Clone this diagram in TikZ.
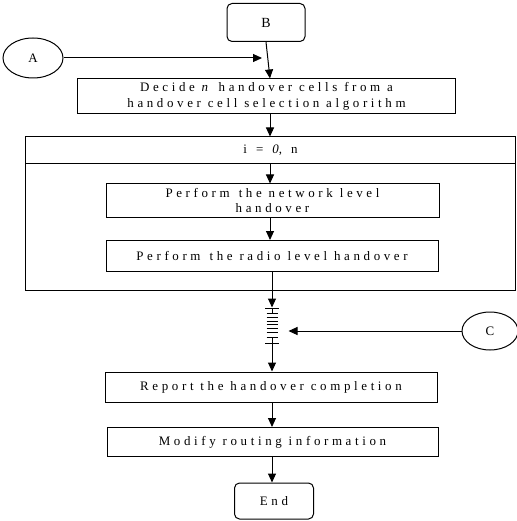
\documentclass[tikz,border=0pt]{standalone}
\usepackage{fontspec}
\setmainfont{Liberation Serif}
\newfontfamily\spacedfont[LetterSpace=28]{Liberation Serif}
\usetikzlibrary{shapes.geometric,arrows.meta,calc}
\begin{document}
\begin{tikzpicture}[x=1bp,y=-1bp,
  line width=1bp,
  arr/.style={-{Triangle[length=9bp,width=8bp]}},
  box/.style={draw, rectangle, inner sep=0pt, align=center, font=\spacedfont\fontsize{13}{16}\selectfont},
  term/.style={draw, rectangle, rounded corners=5bp, inner sep=0pt, font=\fontsize{14}{16}\selectfont},
  conn/.style={draw, ellipse, inner sep=0pt, font=\fontsize{13}{15}\selectfont}]
\useasboundingbox (0,0) rectangle (517,521);
\fill[white] (0,0) rectangle (517,521);
\coordinate (col) at (270,0);
% nodes
\node[term, minimum width=78bp, minimum height=38bp] (B) at (266,22.5) {B};
\node[conn, minimum width=60bp, minimum height=40bp] (A) at (33,58) {A};
\node[box, minimum width=377bp, minimum height=35bp] (decide) at (266.5,96.5) {Decide \textit{n} handover cells from a\\handover cell selection algorithm};
\node[draw, rectangle, minimum width=489bp, minimum height=27bp, inner sep=0pt, font=\spacedfont\fontsize{13}{14}\selectfont] (loophead) at (270.5,150.5) {i \,=\, \textit{0}, \,n};
\node[draw, rectangle, minimum width=489bp, minimum height=126bp, inner sep=0pt] (loopbody) at (270.5,227) {};
\node[box, minimum width=333bp, minimum height=33bp] (network) at (272.5,200.5) {Perform\, the network level\\handover};
\node[box, minimum width=332bp, minimum height=31bp] (radio) at (272,256) {Perform\, the radio level handover};
\node[inner sep=0pt, minimum width=14bp, minimum height=35bp] (junc) at (272,325.5) {};
\node[conn, minimum width=56bp, minimum height=38bp] (C) at (490,331) {C};
\node[box, minimum width=332bp, minimum height=30bp] (report) at (271,387) {Report the handover completion};
\node[box, minimum width=331bp, minimum height=29bp] (modify) at (272.5,442) {Modify routing information};
\node[term, minimum width=79bp, minimum height=36bp, font=\spacedfont\fontsize{13}{14}\selectfont] (End) at (274,501) {End};
% junction symbol
\foreach \yy in {308,343} \draw (265,\yy) -- (279,\yy);
\foreach \yy in {313,317,321,324.5,328.5,332.5,337} \draw (266.5,\yy) -- (278,\yy);
\draw (272,308) -- (272,313);
\draw (272,337) -- (272,343);
% connectors
\coordinate (aend) at (262,58);
\draw[arr] (A.east) -- (aend);
\draw[arr] (B.south) -- (decide.north -| col);
\draw[arr] (decide.south -| col) -- (loophead.north -| col);
\draw[arr] (loophead.south -| col) -- (network.north -| col);
\draw[arr] (network.south -| col) -- (radio.north -| col);
\draw[arr] (radio.south -| junc) -- (junc.north);
\draw[arr] (C.west) -- ([xshift=9bp]junc.east |- C.west);
\draw[arr] (junc.south) -- (report.north -| junc);
\draw[arr] (report.south -| junc) -- (modify.north -| junc);
\draw[arr] (modify.south -| junc) -- (End.north -| junc);
\end{tikzpicture}
\end{document}
